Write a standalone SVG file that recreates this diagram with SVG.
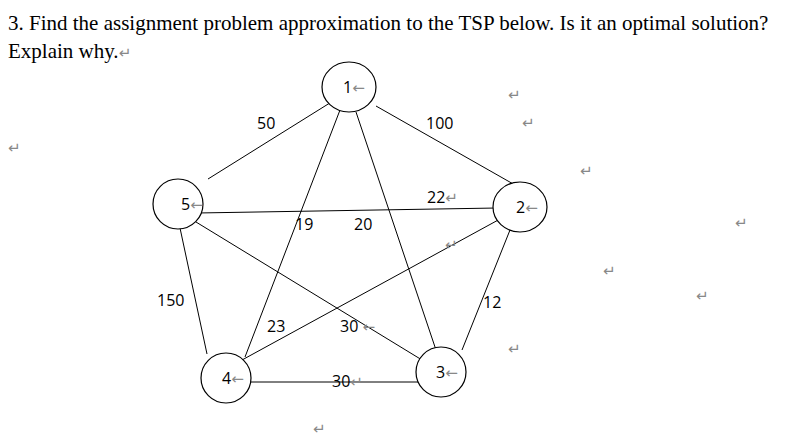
<svg xmlns="http://www.w3.org/2000/svg" width="804" height="447" viewBox="0 0 804 447">
<style>
.t{font-family:"Liberation Serif",serif;font-size:21px;fill:#000}
.l{font-family:"Open Sans","Liberation Sans",sans-serif;font-size:16px;fill:#000}
.m{font-family:"DejaVu Sans",sans-serif;font-size:15px;fill:#888}
.n ellipse{fill:#fff;stroke:#000;stroke-width:1.2}
#edges line{stroke:#000;stroke-width:1}
</style>
<rect width="804" height="447" fill="#fff"/>
<text class="t" x="8" y="30">3. Find the assignment problem approximation to the TSP below. Is it an optimal solution?</text>
<text class="t" x="8" y="58">Explain why.<tspan class="m">↵</tspan></text>
<g id="edges">
<line x1="333" y1="101" x2="208" y2="179"/>
<line x1="376" y1="106" x2="515" y2="185"/>
<line x1="340" y1="110" x2="245" y2="357"/>
<line x1="356" y1="112" x2="436" y2="350"/>
<line x1="197" y1="213" x2="497" y2="208"/>
<line x1="196" y1="222" x2="422" y2="360"/>
<line x1="180" y1="228" x2="207" y2="354"/>
<line x1="500" y1="219" x2="242" y2="360"/>
<line x1="510" y1="230" x2="462" y2="350"/>
<line x1="250" y1="382" x2="418" y2="382"/>
</g>
<g id="n1" class="n"><ellipse cx="349" cy="87" rx="27" ry="25"/><text class="l" x="343" y="93">1<tspan class="m">←</tspan></text></g>
<g id="n2" class="n"><ellipse cx="520" cy="207" rx="27" ry="25"/><text class="l" x="516" y="213">2<tspan class="m">←</tspan></text></g>
<g id="n5" class="n"><ellipse cx="178" cy="204" rx="25" ry="25"/><text class="l" x="181" y="210">5<tspan class="m">←</tspan></text></g>
<g id="n4" class="n"><ellipse cx="226" cy="378" rx="25" ry="25"/><text class="l" x="222" y="384">4<tspan class="m">←</tspan></text></g>
<g id="n3" class="n"><ellipse cx="441" cy="372" rx="25" ry="25"/><text class="l" x="436" y="378">3<tspan class="m">←</tspan></text></g>
<g id="labels">
<text class="l" x="257" y="129">50</text>
<text class="l" x="426" y="129">100</text>
<text class="l" x="427" y="203">22<tspan class="m">↵</tspan></text>
<text class="l" x="295" y="230">19</text>
<text class="l" x="354" y="230">20</text>
<text class="l" x="157" y="306">150</text>
<text class="l" x="267" y="332">23</text>
<text class="l" x="340" y="332">30 <tspan class="m">←</tspan></text>
<text class="l" x="483" y="308">12</text>
<text class="l" x="332" y="387">30<tspan class="m">↵</tspan></text>
</g>
<g>
<text class="m" x="508" y="100">↵</text>
<text class="m" x="522" y="128">↵</text>
<text class="m" x="580" y="176">↵</text>
<text class="m" x="8" y="153">↵</text>
<text class="m" x="735" y="228">↵</text>
<text class="m" x="603" y="276">↵</text>
<text class="m" x="696" y="301">↵</text>
<text class="m" x="508" y="354">↵</text>
<text class="m" x="313" y="434">↵</text>
<text class="m" x="445" y="250">↵</text>
</g>
</svg>
